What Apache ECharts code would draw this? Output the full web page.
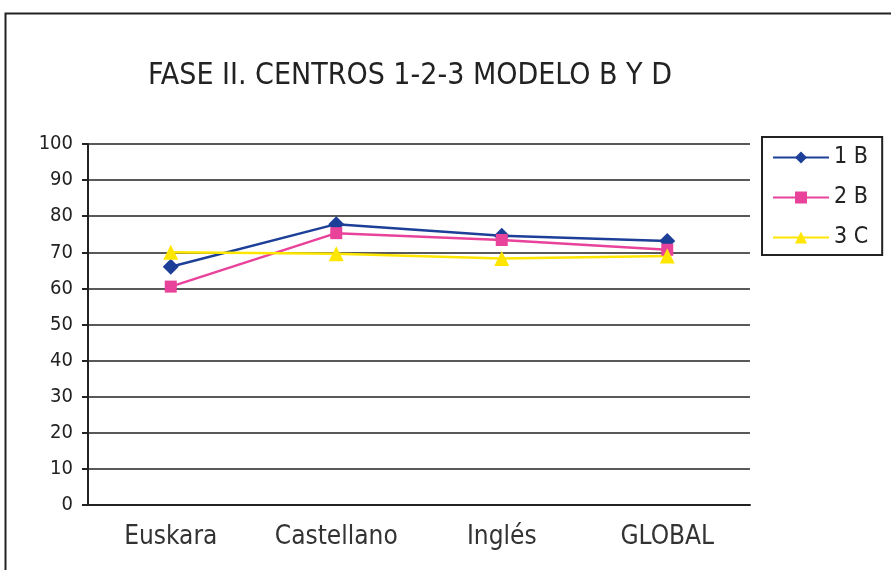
<!DOCTYPE html>
<html>
<head>
<meta charset="utf-8">
<script src="https://cdn.jsdelivr.net/npm/echarts@6/dist/echarts.min.js"></script>
<style>
  html, body { margin: 0; padding: 0; background: #fff; }
  #chart { width: 891px; height: 570px; }
</style>
</head>
<body>
<div id="chart"></div>
<script>
const categories = ['Euskara', 'Castellano', 'Inglés', 'GLOBAL']
const serie1B = [66, 77.8, 74.6, 73.1]
const serie2B = [60.5, 75.3, 73.4, 70.7]
const serie3C = [70, 69.6, 68.3, 69]
const seriesNames = ['1 B', '2 B', '3 C']

const font = 'DejaVu Sans Condensed, DejaVu Sans, sans-serif'
const chart = echarts.init(document.getElementById('chart'))

function lineSeries(name, data, color, symbol, size) {
  return {
    name,
    type: 'line',
    data,
    symbol,
    symbolSize: size,
    lineStyle: { color, width: 2.5 },
    itemStyle: { color },
    emphasis: { disabled: true },
    animation: false,
  }
}

chart.setOption({
  animation: false,
  title: {
    text: 'FASE II. CENTROS 1-2-3 MODELO B Y D',
    left: 405,
    top: 56,
    textAlign: 'center',
    textStyle: { fontFamily: font, fontSize: 30, fontWeight: 'normal', color: '#222' },
  },
  graphic: [
    {
      type: 'rect',
      shape: { x: 5.5, y: 13.5, width: 1000, height: 700 },
      style: { fill: 'none', stroke: '#222', lineWidth: 2 },
      silent: true,
    },
  ],
  legend: {
    orient: 'vertical',
    left: 762,
    top: 137,
    padding: [9, 14, 6, 10],
    itemGap: 17,
    itemWidth: 56,
    itemHeight: 15,
    borderColor: '#222',
    borderWidth: 2,
    data: seriesNames,
    textStyle: { fontFamily: font, fontSize: 23, color: '#222' },
  },
  grid: { left: 88, right: 141, top: 144, bottom: 65 },
  xAxis: {
    type: 'category',
    data: categories,
    boundaryGap: true,
    axisLine: { lineStyle: { color: '#222', width: 2 } },
    axisTick: { length: 11, lineStyle: { color: '#222', width: 2 } },
    axisLabel: { fontFamily: font, fontSize: 26, color: '#333', margin: 19 },
  },
  yAxis: {
    type: 'value',
    min: 0,
    max: 100,
    interval: 10,
    axisLine: { show: true, lineStyle: { color: '#222', width: 2 } },
    axisTick: { show: true, length: 6, lineStyle: { color: '#222', width: 2 } },
    axisLabel: { fontFamily: font, fontSize: 20, color: '#222', margin: 15 },
    splitLine: { lineStyle: { color: '#222', width: 1.5 } },
  },
  series: [
    lineSeries(seriesNames[0], serie1B, '#1d3f98', 'diamond', 16),
    lineSeries(seriesNames[1], serie2B, '#e8429a', 'rect', 12),
    lineSeries(seriesNames[2], serie3C, '#ffe600', 'triangle', 15),
  ],
})
</script>
</body>
</html>
